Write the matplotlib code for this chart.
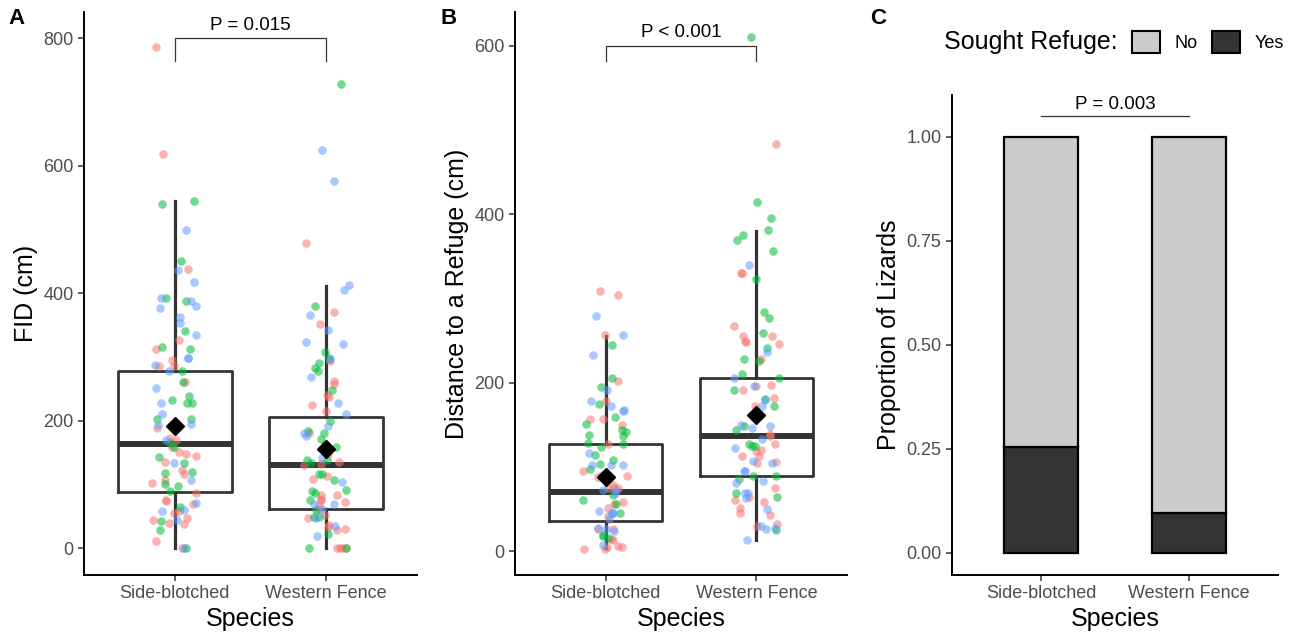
import numpy as np
import matplotlib.pyplot as plt
from matplotlib.patches import Patch

plt.rcParams['font.family'] = ['Liberation Sans', 'DejaVu Sans']

species = ['Side-blotched', 'Western Fence']
grp_colors = {'red': '#F8766D', 'green': '#00BA38', 'blue': '#619CFF'}

# panel A: flight initiation distance (cm), points by group
fid_sb_red = [786, 619, 438, 327, 313, 295, 286, 286, 260, 188, 173, 169, 159, 151, 148, 145, 135,
              122, 117, 107, 102, 87, 75, 74, 69, 59, 55, 48, 44, 38, 40, 12, 0]
fid_sb_green = [544, 540, 450, 393, 388, 341, 316, 313, 278, 261, 239, 232, 227, 227, 202, 202, 165,
                159, 143, 133, 118, 120, 100, 98, 90, 64, 42, 28, 0]
fid_sb_blue = [499, 436, 418, 393, 388, 377, 380, 363, 354, 334, 298, 299, 288, 278, 252, 227, 211,
               195, 193, 169, 134, 107, 71, 60, 59, 44, 0]
fid_wf_red = [479, 370, 351, 294, 262, 257, 240, 237, 224, 215, 181, 163, 148, 135, 132, 130, 114,
              109, 83, 83, 76, 73, 77, 68, 61, 52, 47, 34, 30, 36, 28, 0, 0, 0, 0]
fid_wf_green = [728, 380, 308, 291, 283, 299, 278, 248, 199, 184, 181, 172, 159, 138, 134, 139, 117,
                107, 117, 89, 91, 87, 75, 60, 49, 49, 23, 0, 0]
fid_wf_blue = [625, 576, 405, 413, 365, 343, 321, 323, 296, 268, 228, 211, 191, 180, 176, 141, 104,
               70, 70, 62, 47, 35, 19]
fid_q1 = [88, 61]
fid_med = [163, 130]
fid_q3 = [278, 206]
fid_wlo = [0, 0]
fid_whi = [544, 411]
fid_mean = [191, 155]

# panel B: distance to refuge (cm)
ref_sb_red = [309, 304, 257, 202, 178, 157, 157, 150, 128, 89, 95, 88, 75, 75, 75, 79, 59, 56, 51,
              42, 26, 26, 14, 15, 6, 3, 3, 5, 5]
ref_sb_green = [245, 206, 195, 175, 160, 151, 144, 137, 142, 138, 129, 127, 124, 114, 104, 108, 98,
                90, 67, 56, 61, 45, 20, 18, 16]
ref_sb_blue = [279, 257, 233, 191, 178, 172, 168, 167, 117, 102, 102, 102, 91, 69, 73, 73, 45, 45,
               48, 45, 38, 24, 26, 28, 8]
ref_wf_red = [483, 330, 330, 267, 255, 246, 250, 248, 256, 228, 196, 197, 192, 182, 172, 137, 139,
              128, 119, 120, 113, 113, 105, 106, 75, 61, 59, 64, 45, 52, 43, 33, 30]
ref_wf_green = [610, 414, 396, 381, 370, 375, 356, 323, 284, 277, 259, 241, 226, 228, 211, 206, 191,
                181, 172, 149, 144, 125, 128, 125, 89, 89, 86, 65, 69, 25]
ref_wf_blue = [340, 237, 206, 196, 180, 172, 149, 150, 147, 133, 123, 105, 107, 95, 95, 83, 81, 69,
               69, 63, 50, 30, 28, 26, 14]
ref_q1 = [36, 89]
ref_med = [71, 137]
ref_q3 = [128, 206]
ref_wlo = [4, 14]
ref_whi = [255, 380]
ref_mean = [88, 162]

# panel C: proportion that sought refuge
refuge_yes = [0.255, 0.096]
refuge_no = [0.745, 0.904]

rng = np.random.default_rng(3)


def box_panel(ax, pts, q1, med, q3, wlo, whi, mean, ylim, yticks, ylabel, ptext, py):
    stats = []
    for i in range(2):
        stats.append(dict(q1=q1[i], med=med[i], q3=q3[i], whislo=wlo[i], whishi=whi[i],
                          mean=mean[i], fliers=[]))
    arts = ax.bxp(stats, positions=[1, 2], widths=0.75, showmeans=True, showcaps=False,
                  boxprops=dict(color='#333333', lw=2),
                  whiskerprops=dict(color='#333333', lw=2.3),
                  medianprops=dict(color='#333333', lw=4.3, solid_capstyle='butt'),
                  meanprops=dict(marker='D', markerfacecolor='black', markeredgecolor='black',
                                 markersize=9))
    for m in arts['means']:
        m.set_zorder(5)
    for i, groups in enumerate(pts):
        for g, vals in groups.items():
            vals = np.array(vals, dtype=float)
            x = i + 1 + rng.uniform(-0.15, 0.15, len(vals))
            ax.scatter(x, vals, s=38, color=grp_colors[g], alpha=0.55, lw=0, zorder=3)
    # significance bracket
    ax.plot([1, 1, 2, 2], [py[1], py[0], py[0], py[1]], color='#333333', lw=0.9)
    ax.text(1.5, py[2], ptext, ha='center', va='bottom', fontsize=13.5)
    ax.set_ylim(*ylim)
    ax.set_yticks(yticks)
    ax.set_ylabel(ylabel, fontsize=18)


def style(ax):
    ax.set_xlim(0.4, 2.6)
    ax.set_xticks([1, 2])
    ax.set_xticklabels(species)
    ax.set_xlabel('Species', fontsize=18, labelpad=3)
    for s in ['top', 'right']:
        ax.spines[s].set_visible(False)
    for s in ['left', 'bottom']:
        ax.spines[s].set_linewidth(1.4)
    ax.tick_params(labelsize=13, labelcolor='#4D4D4D', color='#333333', length=4, width=1.1)


fig = plt.figure(figsize=(12.98, 6.42), dpi=100)
W, H = 1298, 642
axA = fig.add_axes([84 / W, 1 - 575 / H, 333 / W, 563 / H])
axB = fig.add_axes([515 / W, 1 - 575 / H, 332 / W, 563 / H])
axC = fig.add_axes([952 / W, 1 - 575 / H, 326 / W, 480 / H])

box_panel(axA,
          [dict(red=fid_sb_red, green=fid_sb_green, blue=fid_sb_blue),
           dict(red=fid_wf_red, green=fid_wf_green, blue=fid_wf_blue)],
          fid_q1, fid_med, fid_q3, fid_wlo, fid_whi, fid_mean,
          (-42, 841), [0, 200, 400, 600, 800], 'FID (cm)', 'P = 0.015', (800, 764, 806))
box_panel(axB,
          [dict(red=ref_sb_red, green=ref_sb_green, blue=ref_sb_blue),
           dict(red=ref_wf_red, green=ref_wf_green, blue=ref_wf_blue)],
          ref_q1, ref_med, ref_q3, ref_wlo, ref_whi, ref_mean,
          (-28, 640), [0, 200, 400, 600], 'Distance to a Refuge (cm)', 'P < 0.001', (600, 582, 606))
style(axA)
style(axB)

x = np.array([1, 2])
axC.bar(x, refuge_yes, width=0.5, color='#333333', edgecolor='black', lw=1.6)
axC.bar(x, refuge_no, width=0.5, bottom=refuge_yes, color='#CCCCCC', edgecolor='black', lw=1.6)
axC.plot([1, 2], [1.05, 1.05], color='#333333', lw=0.9)
axC.text(1.5, 1.057, 'P = 0.003', ha='center', va='bottom', fontsize=13.5)
axC.set_ylim(-0.053, 1.10)
axC.set_yticks([0, 0.25, 0.5, 0.75, 1.0])
axC.set_yticklabels(['0.00', '0.25', '0.50', '0.75', '1.00'])
axC.set_ylabel('Proportion of Lizards', fontsize=18)
style(axC)

fig.text(944 / W, 1 - 42 / H, 'Sought Refuge:', fontsize=18, va='center', ha='left')
handles = [Patch(facecolor='#CCCCCC', edgecolor='black', lw=1.5, label='No'),
           Patch(facecolor='#333333', edgecolor='black', lw=1.5, label='Yes')]
fig.legend(handles=handles, ncol=2, frameon=False, loc='center left',
           bbox_to_anchor=(1132 / W, 1 - 42 / H), fontsize=13, handlelength=1.55,
           handleheight=1.55, handletextpad=0.8, columnspacing=0.8, borderpad=0,
           borderaxespad=0)

for lab, xp in [('A', 8), ('B', 440), ('C', 870)]:
    fig.text(xp / W, 1 - 18 / H, lab, fontsize=16, weight='bold', va='center')

fig.savefig('out.png', dpi=100)
